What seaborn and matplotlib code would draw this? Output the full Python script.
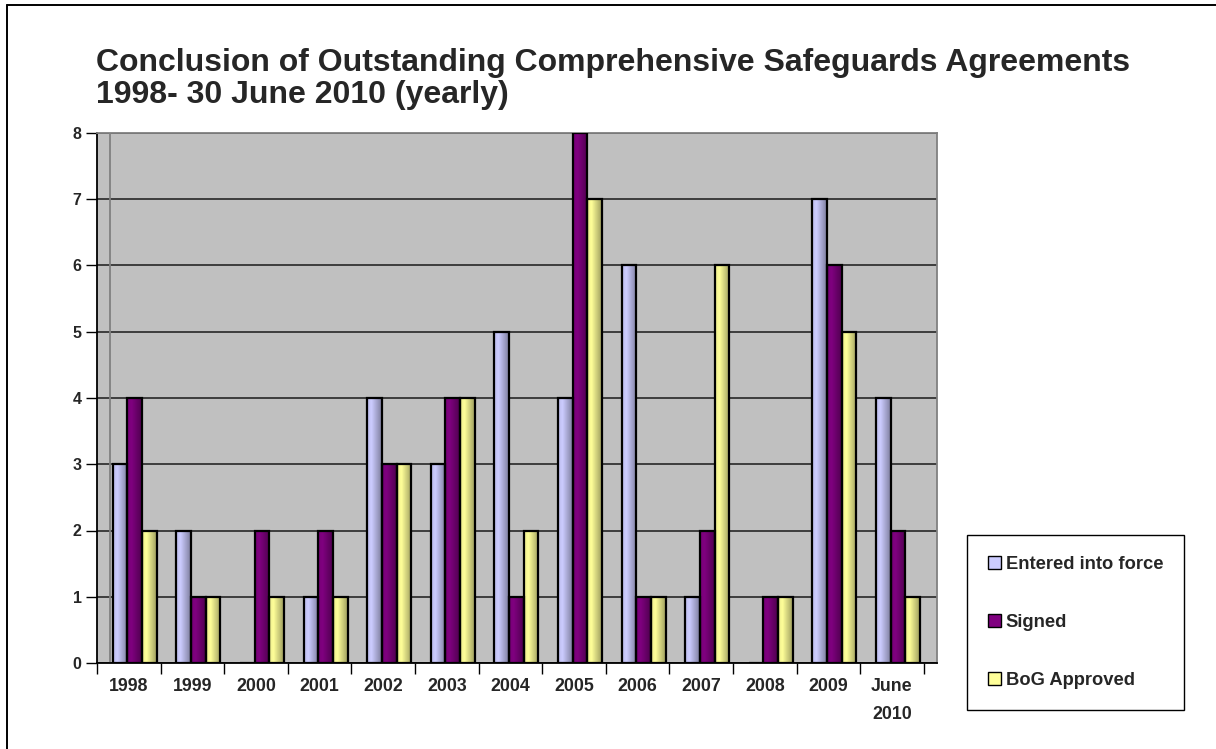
import numpy as np
import pandas as pd
import matplotlib
matplotlib.use("Agg")
import matplotlib.pyplot as plt
import seaborn as sns
from matplotlib.patches import Patch
from matplotlib.lines import Line2D
from matplotlib.transforms import ScaledTranslation

categories = ['1998', '1999', '2000', '2001', '2002', '2003', '2004',
              '2005', '2006', '2007', '2008', '2009', 'June\n2010']
entered = [3, 2, 0, 1, 4, 3, 5, 4, 6, 1, 0, 7, 4]
signed = [4, 1, 2, 2, 3, 4, 1, 8, 1, 2, 1, 6, 2]
bog = [2, 1, 1, 1, 3, 4, 2, 7, 1, 6, 1, 5, 1]
series_names = ['Entered into force', 'Signed', 'BoG Approved']
colors = ['#CCCCFF', '#800080', '#FFFF99']
y_ticks = list(range(0, 9))

sns.set_theme(style='white')
plt.rcParams['font.family'] = ['Liberation Sans', 'DejaVu Sans']
plt.rcParams['font.weight'] = 'bold'

df = pd.DataFrame({
    'cat': categories * 3,
    'series': [series_names[0]] * 13 + [series_names[1]] * 13 + [series_names[2]] * 13,
    'value': entered + signed + bog,
})

W, H = 1216, 749
fig = plt.figure(figsize=(W / 100, H / 100), dpi=100)
ax = fig.add_axes([97 / W, (H - 663) / H, (937 - 97) / W, (663 - 133) / H])
ax.set_facecolor('#C0C0C0')

cat_px = 63.6
shift = 6 / cat_px

sns.barplot(data=df, x='cat', y='value', hue='series', order=categories,
            hue_order=series_names, palette=colors, width=0.69,
            edgecolor='black', linewidth=1.6, legend=False, ax=ax, zorder=3)

# gradient fill inside the bars
def shade(base, n=64):
    rgb = np.array(matplotlib.colors.to_rgb(base))
    t = np.linspace(0, 1, n)
    f = np.where(t < 0.3, 0.92 + (1.0 - 0.92) * t / 0.3, 1.0 - 0.38 * (t - 0.3) / 0.7)
    g = np.clip(rgb[None, :] * f[:, None], 0, 1)
    return g[None, :, :]

for cont, col in zip(ax.containers, colors):
    img = shade(col)
    for p in cont.patches:
        h = p.get_height()
        if h <= 0:
            continue
        x0 = p.get_x()
        im = ax.imshow(img, extent=[x0, x0 + p.get_width(), 0, h],
                       aspect='auto', interpolation='bilinear', zorder=2.9)
        im.set_clip_path(p)
        p.set_facecolor('none')

ax.set_xlim(-0.5 - shift, -0.5 - shift + 840 / cat_px)
ax.set_ylim(0, 8)
ax.set_yticks(y_ticks)
ax.set_yticklabels([str(v) for v in y_ticks], fontsize=11.5, fontweight='bold')
ax.yaxis.grid(True, color='#1a1a1a', linewidth=1.1, zorder=1)
ax.set_axisbelow(True)
ax.axvline(-0.5 - shift + 13 / cat_px, color='#808080', linewidth=1.3, zorder=1.5)

ax.set_xticks(range(len(categories)))
ax.set_xticklabels(categories, fontsize=12.8, fontweight='bold', linespacing=1.8,
                   va='top')
ax.tick_params(axis='x', which='major', length=0, pad=11)
ax.set_xticks([k - 0.5 - shift for k in range(len(categories) + 1)], minor=True)
ax.tick_params(axis='x', which='minor', length=8, width=1.0, color='black',
               direction='out', bottom=True)
ax.tick_params(axis='y', length=8, width=1.0, color='black', direction='out',
               left=True, pad=3)
off = ScaledTranslation(-6 / 100, 0, fig.dpi_scale_trans)
for lab in ax.get_xticklabels():
    lab.set_transform(lab.get_transform() + off)

for s in ['left', 'bottom']:
    ax.spines[s].set_color('black')
    ax.spines[s].set_linewidth(1.3)
for s in ['top', 'right']:
    ax.spines[s].set_color('#808080')
    ax.spines[s].set_linewidth(1.3)
ax.set_xlabel('')
ax.set_ylabel('')

handles = [Patch(facecolor=c, edgecolor='black', linewidth=1.0) for c in colors]
leg = fig.legend(handles, series_names, loc='lower left',
                 bbox_to_anchor=(967 / W, (H - 710) / H),
                 prop={'size': 13.2, 'weight': 'bold'}, frameon=True,
                 fancybox=False, edgecolor='black', framealpha=1,
                 handlelength=0.72, handleheight=0.72, handletextpad=0.25,
                 labelspacing=2.23, borderpad=1.15, borderaxespad=0)
leg.get_frame().set_linewidth(1.0)

fig.text(96 / W, (H - 71) / H, 'Conclusion of Outstanding Comprehensive Safeguards Agreements',
         fontsize=23, fontweight='bold', ha='left', va='baseline')
fig.text(96 / W, (H - 103) / H, '1998- 30 June 2010 (yearly)',
         fontsize=23, fontweight='bold', ha='left', va='baseline')

fig.add_artist(Line2D([7 / W, 1], [(H - 5) / H, (H - 5) / H], color='black', linewidth=1.4,
                      transform=fig.transFigure))
fig.add_artist(Line2D([7 / W, 7 / W], [0, (H - 5) / H], color='black', linewidth=1.4,
                      transform=fig.transFigure))

fig.savefig('out.png', dpi=100)
